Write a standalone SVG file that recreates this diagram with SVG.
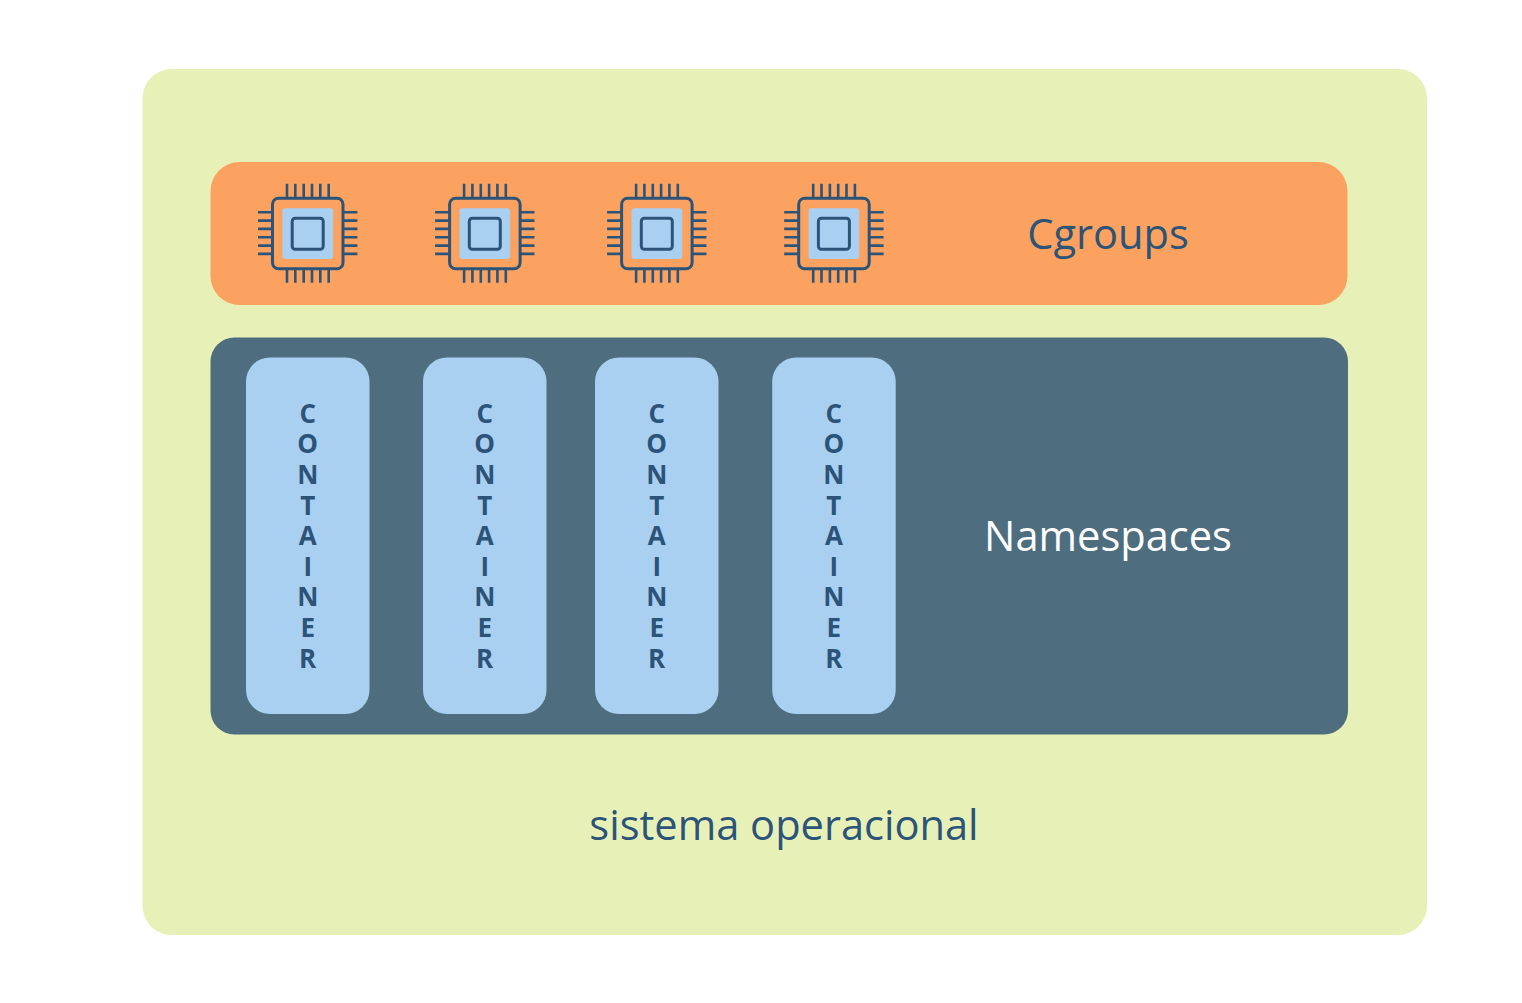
<svg xmlns="http://www.w3.org/2000/svg" width="1522" height="1003" viewBox="0 0 1522 1003">
<style>
text{font-family:"Open Sans","Noto Sans",sans-serif}
.label{font-size:41.6px;text-anchor:middle;fill:#2c5378}
.letters{font-size:26px;font-weight:700;text-anchor:middle;fill:#2c5378}
.box{fill:#a9d0f1}
.ln{fill:none;stroke:#2c5378;stroke-width:3}
.pin{fill:none;stroke:#2c5378;stroke-width:2.6}
</style>
<defs>
<g id="chip">
<path class="pin" d="M-20.700-49.500V-36M-12.400-49.500V-36M-4-49.500V-36M4.300-49.500V-36M12.600-49.500V-36M21-49.500V-36M-20.700 36V49.500M-12.400 36V49.500M-4 36V49.500M4.300 36V49.500M12.600 36V49.500M21 36V49.500M-49.700-21H-36M-49.700-12.700H-36M-49.700-4.400H-36M-49.700 4H-36M-49.700 12.300H-36M-49.700 20.600H-36M36-21H49.700M36-12.700H49.700M36-4.400H49.700M36 4H49.700M36 12.300H49.700M36 20.600H49.700"/>
<rect class="ln" x="-35.200" y="-35" width="70.500" height="70.500" rx="6"/>
<rect class="box" x="-25.300" y="-25" width="50.700" height="50.700" rx="3"/>
<rect class="ln" x="-15.500" y="-15" width="31" height="31" rx="3"/>
</g>
<g id="cont">
<rect class="box" x="0" y="0" width="123.500" height="356.500" rx="24"/>
<text class="letters"><tspan x="61.700" y="65">C</tspan><tspan x="61.700" y="95.600">O</tspan><tspan x="61.700" y="126.300">N</tspan><tspan x="61.700" y="157">T</tspan><tspan x="61.700" y="187.600">A</tspan><tspan x="61.700" y="218.300">I</tspan><tspan x="61.700" y="248.600">N</tspan><tspan x="61.700" y="279.700">E</tspan><tspan x="61.700" y="310.400">R</tspan></text>
</g>
</defs>
<g id="os">
<rect x="142.500" y="69" width="1284.500" height="866" rx="29" fill="#e7f1b7"/>
<text class="label" x="784" y="840">sistema operacional</text>
</g>
<g id="cgroups">
<rect x="210.500" y="162" width="1137" height="143" rx="29" fill="#fca260"/>
<text class="label" x="1108" y="249">Cgroups</text>
</g>
<g id="chip1"><use href="#chip" x="307.700" y="233.300"/></g>
<g id="chip2"><use href="#chip" x="484.800" y="233.300"/></g>
<g id="chip3"><use href="#chip" x="656.800" y="233.300"/></g>
<g id="chip4"><use href="#chip" x="833.900" y="233.300"/></g>
<g id="namespaces">
<rect x="210.500" y="337.500" width="1137.500" height="397" rx="24" fill="#4e6d7f"/>
<text class="label" x="1108" y="551" style="fill:#fff">Namespaces</text>
</g>
<g id="container1"><use href="#cont" x="246" y="357.500"/></g>
<g id="container2"><use href="#cont" x="423" y="357.500"/></g>
<g id="container3"><use href="#cont" x="595" y="357.500"/></g>
<g id="container4"><use href="#cont" x="772.200" y="357.500"/></g>
<g id="connectors"/>
</svg>
